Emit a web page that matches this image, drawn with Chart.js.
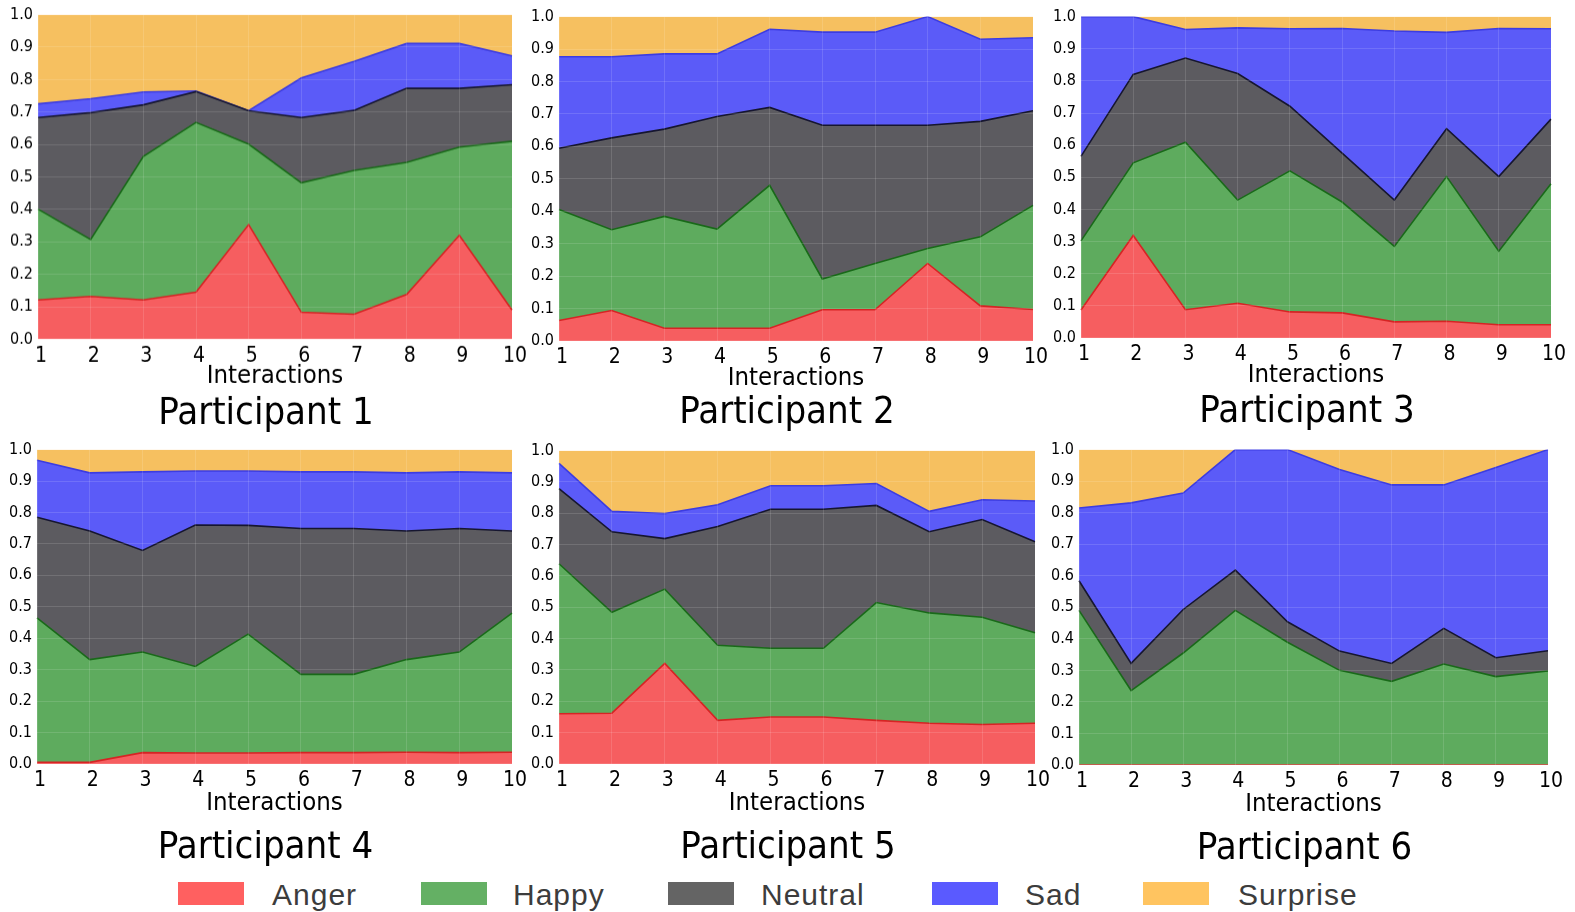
<!DOCTYPE html>
<html>
<head>
<meta charset="utf-8">
<script src="https://cdn.jsdelivr.net/npm/chart.js@4/dist/chart.umd.min.js"></script>
<style>
  body { margin: 0; background: #fff; width: 1575px; height: 912px; position: relative; overflow: hidden; }
  .panel { position: absolute; }
  .legend-box { position: absolute; width: 66px; height: 23px; }
  .legend-text { position: absolute; font-family: 'Liberation Sans', Arial, sans-serif; font-size: 30px; letter-spacing: 1px; color: #3c3c3c; line-height: 30px; }
</style>
</head>
<body>
<script>
const interactions = ['1', '2', '3', '4', '5', '6', '7', '8', '9', '10'];
const emotions = ['Anger', 'Happy', 'Neutral', 'Sad', 'Surprise'];
const yTicks = [0, 0.1, 0.2, 0.3, 0.4, 0.5, 0.6, 0.7, 0.8, 0.9, 1.0];

// participant 1
const p1Anger    = [0.121, 0.132, 0.121, 0.145, 0.353, 0.083, 0.077, 0.138, 0.320, 0.090];
const p1Happy    = [0.280, 0.175, 0.442, 0.523, 0.248, 0.399, 0.443, 0.407, 0.272, 0.520];
const p1Neutral  = [0.282, 0.391, 0.159, 0.095, 0.103, 0.201, 0.185, 0.228, 0.181, 0.174];
const p1Sad      = [0.042, 0.043, 0.040, 0.002, 0.000, 0.122, 0.151, 0.138, 0.138, 0.089];
const p1Surprise = [0.275, 0.259, 0.238, 0.235, 0.296, 0.195, 0.144, 0.089, 0.089, 0.127];

// participant 2
const p2Anger    = [0.063, 0.094, 0.039, 0.039, 0.039, 0.096, 0.096, 0.239, 0.108, 0.097];
const p2Happy    = [0.342, 0.249, 0.345, 0.306, 0.441, 0.095, 0.143, 0.046, 0.213, 0.321];
const p2Neutral  = [0.189, 0.283, 0.269, 0.347, 0.240, 0.474, 0.426, 0.380, 0.356, 0.292];
const p2Sad      = [0.282, 0.250, 0.232, 0.193, 0.241, 0.287, 0.287, 0.335, 0.253, 0.225];
const p2Surprise = [0.124, 0.124, 0.115, 0.115, 0.039, 0.048, 0.048, 0.000, 0.070, 0.065];

// participant 3
const p3Anger    = [0.087, 0.319, 0.088, 0.108, 0.081, 0.078, 0.050, 0.052, 0.041, 0.041];
const p3Happy    = [0.215, 0.226, 0.521, 0.321, 0.439, 0.345, 0.235, 0.450, 0.229, 0.439];
const p3Neutral  = [0.263, 0.275, 0.262, 0.394, 0.201, 0.152, 0.144, 0.149, 0.232, 0.201];
const p3Sad      = [0.435, 0.180, 0.089, 0.142, 0.241, 0.388, 0.526, 0.300, 0.461, 0.281];
const p3Surprise = [0.000, 0.000, 0.040, 0.035, 0.038, 0.037, 0.045, 0.049, 0.037, 0.038];

// participant 4
const p4Anger    = [0.005, 0.005, 0.036, 0.035, 0.035, 0.036, 0.036, 0.037, 0.036, 0.037];
const p4Happy    = [0.460, 0.327, 0.320, 0.275, 0.378, 0.249, 0.249, 0.295, 0.320, 0.443];
const p4Neutral  = [0.320, 0.409, 0.323, 0.450, 0.346, 0.464, 0.464, 0.409, 0.393, 0.261];
const p4Sad      = [0.181, 0.185, 0.250, 0.172, 0.173, 0.180, 0.180, 0.185, 0.180, 0.185];
const p4Surprise = [0.034, 0.074, 0.071, 0.068, 0.068, 0.071, 0.071, 0.074, 0.071, 0.074];

// participant 5
const p5Anger    = [0.160, 0.162, 0.321, 0.139, 0.150, 0.150, 0.139, 0.130, 0.126, 0.130];
const p5Happy    = [0.479, 0.322, 0.237, 0.240, 0.219, 0.219, 0.376, 0.352, 0.342, 0.289];
const p5Neutral  = [0.240, 0.257, 0.161, 0.379, 0.444, 0.444, 0.310, 0.259, 0.312, 0.290];
const p5Sad      = [0.080, 0.065, 0.080, 0.069, 0.075, 0.075, 0.070, 0.065, 0.063, 0.130];
const p5Surprise = [0.041, 0.194, 0.201, 0.173, 0.112, 0.112, 0.105, 0.194, 0.157, 0.161];

// participant 6
const p6Anger    = [0, 0, 0, 0, 0, 0, 0, 0, 0, 0];
const p6Happy    = [0.490, 0.236, 0.355, 0.490, 0.389, 0.300, 0.265, 0.320, 0.280, 0.298];
const p6Neutral  = [0.094, 0.086, 0.138, 0.128, 0.065, 0.061, 0.057, 0.113, 0.060, 0.064];
const p6Sad      = [0.231, 0.509, 0.369, 0.382, 0.546, 0.576, 0.566, 0.455, 0.603, 0.638];
const p6Surprise = [0.185, 0.169, 0.138, 0.000, 0.000, 0.063, 0.112, 0.112, 0.057, 0.000];

const fills   = ['rgb(246,94,96)', 'rgb(94,171,94)', 'rgb(92,91,96)', 'rgb(91,91,248)', 'rgb(246,192,96)'];
const borders = ['rgb(214,36,36)', 'rgb(25,105,25)', 'rgb(22,22,48)', 'rgb(60,60,225)', 'rgba(0,0,0,0)'];
const legendFills = ['rgb(255,96,96)', 'rgb(100,176,100)', 'rgb(100,100,100)', 'rgb(90,90,255)', 'rgb(255,196,96)'];

// plot area of each panel in page pixels (left, top, right, bottom),
// axis-title gap and title gap per row
const panels = [
  { title: 'Participant 1', series: [p1Anger, p1Happy, p1Neutral, p1Sad, p1Surprise], box: [38, 9, 512, 338.5], xpad: 0.75, tpad: 12 },
  { title: 'Participant 2', series: [p2Anger, p2Happy, p2Neutral, p2Sad, p2Surprise], box: [559, 11, 1033, 341], xpad: 0.75, tpad: 10 },
  { title: 'Participant 3', series: [p3Anger, p3Happy, p3Neutral, p3Sad, p3Surprise], box: [1081, 11, 1551, 338], xpad: 0.75, tpad: 12 },
  { title: 'Participant 4', series: [p4Anger, p4Happy, p4Neutral, p4Sad, p4Surprise], box: [37, 444, 512, 764], xpad: 3.25, tpad: 19.5 },
  { title: 'Participant 5', series: [p5Anger, p5Happy, p5Neutral, p5Sad, p5Surprise], box: [559, 445, 1035, 764], xpad: 3.25, tpad: 19.5 },
  { title: 'Participant 6', series: [p6Anger, p6Happy, p6Neutral, p6Sad, p6Surprise], box: [1079, 444, 1548, 765], xpad: 3.25, tpad: 19.5 },
];

Chart.defaults.font.family = "'DejaVu Sans Condensed', 'DejaVu Sans', sans-serif";
Chart.defaults.color = '#000';

const Y_W = 38, PAD_T = 9, PAD_R = 20;
const TICK_LH = 34 / 21, XTITLE_LH = 0.2;
const TICK_H = 34, XTITLE_H = 25.5 * XTITLE_LH, TITLE_H = 38 * 1.2;

panels.forEach(p => {
  const [l, t, r, b] = p.box;
  const left = l - Y_W, top = t - PAD_T;
  const width = r - left + PAD_R;
  const height = (b - top) + TICK_H + p.xpad + XTITLE_H + p.tpad + TITLE_H;

  const div = document.createElement('div');
  div.className = 'panel';
  div.style.left = left + 'px';
  div.style.top = top + 'px';
  div.style.width = width + 'px';
  div.style.height = height + 'px';
  const canvas = document.createElement('canvas');
  div.appendChild(canvas);
  document.body.appendChild(div);

  new Chart(canvas, {
    type: 'line',
    data: {
      labels: interactions,
      datasets: emotions.map((name, i) => ({
        label: name,
        data: p.series[i],
        backgroundColor: fills[i],
        borderColor: borders[i],
        borderWidth: i === 4 ? 0 : 1.6,
        fill: i === 0 ? 'origin' : '-1',
        pointRadius: 0,
        tension: 0,
        yAxisID: 'y',
      })),
    },
    options: {
      responsive: true,
      maintainAspectRatio: false,
      animation: false,
      layout: { padding: { left: 0, top: PAD_T, right: 0, bottom: 0 } },
      plugins: {
        legend: { display: false },
        tooltip: { enabled: false },
        title: {
          display: true,
          text: p.title,
          position: 'bottom',
          font: { size: 38, weight: 'normal', lineHeight: 1.2 },
          color: '#000',
          padding: { top: p.tpad, bottom: 0 },
        },
      },
      scales: {
        x: {
          offset: false,
          grid: { color: 'rgba(255,255,255,0.13)', drawTicks: false, z: 1 },
          border: { display: false },
          ticks: { font: { size: 21, lineHeight: TICK_LH }, padding: 0, labelOffset: 3, maxRotation: 0, autoSkip: false },
          title: {
            display: true,
            text: 'Interactions',
            font: { size: 25.5, lineHeight: XTITLE_LH },
            padding: { top: p.xpad, bottom: 0 },
            color: '#000',
          },
        },
        y: {
          stacked: true,
          min: 0,
          max: 1,
          afterFit: s => { s.width = Y_W; },
          afterBuildTicks: s => { s.ticks = yTicks.map(v => ({ value: v })); },
          grid: { color: 'rgba(255,255,255,0.13)', drawTicks: false, z: 1 },
          border: { display: false },
          ticks: { font: { size: 16 }, padding: 5, callback: v => Number(v).toFixed(1) },
        },
        // empty strip on the right so the title stays centred on the panel
        gap: {
          position: 'right',
          min: 0,
          max: 1,
          afterFit: s => { s.width = PAD_R; },
          grid: { display: false },
          border: { display: false },
          ticks: { display: false },
        },
      },
    },
  });
});

// legend along the bottom
const legendPos = [[178, 272], [421, 513], [668, 761], [932, 1025], [1143, 1238]];
emotions.forEach((name, i) => {
  const box = document.createElement('div');
  box.className = 'legend-box';
  box.style.left = legendPos[i][0] + 'px';
  box.style.top = '882px';
  box.style.background = legendFills[i];
  document.body.appendChild(box);
  const txt = document.createElement('div');
  txt.className = 'legend-text';
  txt.style.left = legendPos[i][1] + 'px';
  txt.style.top = '880px';
  txt.textContent = name;
  document.body.appendChild(txt);
});
</script>
</body>
</html>
